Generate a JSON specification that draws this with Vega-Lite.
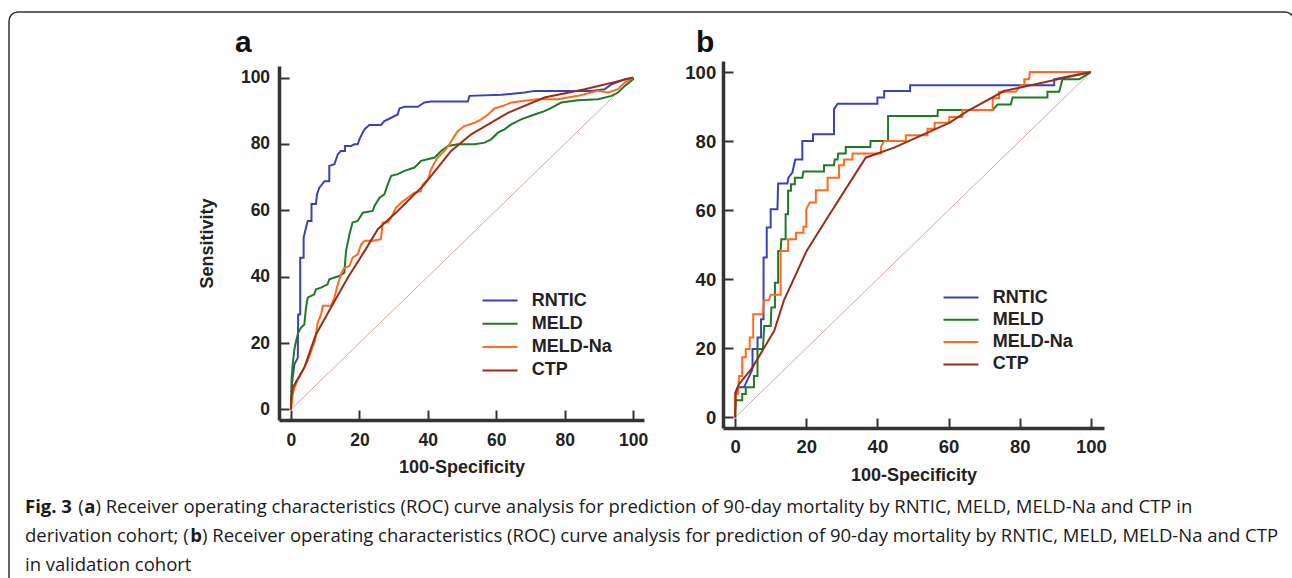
{
  "$schema": "https://vega.github.io/schema/vega-lite/v6.json",
  "padding": {"left": 8, "top": 8, "right": 0, "bottom": 0},
  "background": "white",
  "config": {
    "view": {"stroke": null},
    "font": "Liberation Sans",
    "axis": {
      "grid": false, "tickSize": -10, "tickWidth": 2, "tickColor": "#333333",
      "domainWidth": 3.5, "domainColor": "#333333",
      "labelFont": "Liberation Sans", "labelFontWeight": "bold", "labelColor": "#222222",
      "labelFlush": false, "labelOverlap": false,
      "titleFont": "Liberation Sans", "titleFontWeight": "bold", "titleColor": "#222222", "titleFontSize": 18
    },
    "legend": {
      "symbolType": "M-3.5,0H3.5", "symbolSize": 100, "symbolStrokeWidth": 2, "symbolOffset": 8,
      "labelFont": "Liberation Sans", "labelFontWeight": "bold", "labelFontSize": 18, "labelColor": "#222222",
      "labelOffset": 22.7, "padding": 0
    }
  },
  "datasets": {
    "rocA": [
      {"s":"RNTIC","x":0,"y":0},{"s":"RNTIC","x":0.3,"y":8},{"s":"RNTIC","x":1,"y":13.6},{"s":"RNTIC","x":2,"y":15.6},{"s":"RNTIC","x":2.1,"y":28.6},{"s":"RNTIC","x":2.7,"y":28.6},{"s":"RNTIC","x":2.7,"y":45.7},{"s":"RNTIC","x":3.7,"y":45.7},{"s":"RNTIC","x":3.7,"y":51.8},{"s":"RNTIC","x":4.4,"y":54.8},{"s":"RNTIC","x":4.9,"y":56.8},{"s":"RNTIC","x":6,"y":56.8},{"s":"RNTIC","x":6,"y":61.9},{"s":"RNTIC","x":7.3,"y":61.9},{"s":"RNTIC","x":7.6,"y":64.8},{"s":"RNTIC","x":8.3,"y":66.8},{"s":"RNTIC","x":9.8,"y":68.8},{"s":"RNTIC","x":11.2,"y":68.8},{"s":"RNTIC","x":11.2,"y":73.4},{"s":"RNTIC","x":12.7,"y":73.9},{"s":"RNTIC","x":13.7,"y":76.9},{"s":"RNTIC","x":14.6,"y":77.9},{"s":"RNTIC","x":15.8,"y":77.9},{"s":"RNTIC","x":15.8,"y":79.4},{"s":"RNTIC","x":17.6,"y":79.4},{"s":"RNTIC","x":18.5,"y":79.9},{"s":"RNTIC","x":19.5,"y":79.9},{"s":"RNTIC","x":20,"y":81.4},{"s":"RNTIC","x":20.7,"y":82.9},{"s":"RNTIC","x":21.5,"y":84.4},{"s":"RNTIC","x":22.9,"y":85.7},{"s":"RNTIC","x":26.3,"y":85.7},{"s":"RNTIC","x":27.3,"y":86.9},{"s":"RNTIC","x":29.3,"y":87.9},{"s":"RNTIC","x":31.2,"y":88.9},{"s":"RNTIC","x":31.7,"y":90.7},{"s":"RNTIC","x":33.2,"y":91.2},{"s":"RNTIC","x":37.1,"y":91.2},{"s":"RNTIC","x":39,"y":92.5},{"s":"RNTIC","x":41,"y":92.8},{"s":"RNTIC","x":51.7,"y":92.8},{"s":"RNTIC","x":52.2,"y":94.5},{"s":"RNTIC","x":61.5,"y":94.8},{"s":"RNTIC","x":68.3,"y":95.5},{"s":"RNTIC","x":71.2,"y":96},{"s":"RNTIC","x":87.8,"y":96},{"s":"RNTIC","x":91.7,"y":96.5},{"s":"RNTIC","x":93.7,"y":98},{"s":"RNTIC","x":97.6,"y":99.5},{"s":"RNTIC","x":100,"y":100},
      {"s":"MELD","x":0,"y":0},{"s":"MELD","x":0.2,"y":9.5},{"s":"MELD","x":0.5,"y":13.6},{"s":"MELD","x":1,"y":18.1},{"s":"MELD","x":1.5,"y":20.6},{"s":"MELD","x":2.1,"y":23.1},{"s":"MELD","x":2.9,"y":24.6},{"s":"MELD","x":3.9,"y":25.6},{"s":"MELD","x":4.4,"y":30.7},{"s":"MELD","x":4.9,"y":33.7},{"s":"MELD","x":5.9,"y":34.2},{"s":"MELD","x":6.8,"y":34.7},{"s":"MELD","x":7.3,"y":36.2},{"s":"MELD","x":8.8,"y":36.7},{"s":"MELD","x":10.7,"y":37.7},{"s":"MELD","x":11.2,"y":39.2},{"s":"MELD","x":14.1,"y":40.2},{"s":"MELD","x":15.6,"y":41.2},{"s":"MELD","x":16.1,"y":47.7},{"s":"MELD","x":17.1,"y":52.8},{"s":"MELD","x":18,"y":56.3},{"s":"MELD","x":19.5,"y":56.8},{"s":"MELD","x":21,"y":59.3},{"s":"MELD","x":23.9,"y":59.8},{"s":"MELD","x":24.4,"y":61.3},{"s":"MELD","x":25.9,"y":63.8},{"s":"MELD","x":27.3,"y":64.8},{"s":"MELD","x":28.3,"y":67.8},{"s":"MELD","x":29.3,"y":70.4},{"s":"MELD","x":31.2,"y":70.9},{"s":"MELD","x":33.2,"y":71.9},{"s":"MELD","x":36.1,"y":72.9},{"s":"MELD","x":37.6,"y":74.4},{"s":"MELD","x":38,"y":74.9},{"s":"MELD","x":42,"y":75.9},{"s":"MELD","x":43.9,"y":77.9},{"s":"MELD","x":45.9,"y":79.4},{"s":"MELD","x":48.8,"y":79.9},{"s":"MELD","x":53.7,"y":79.9},{"s":"MELD","x":56.6,"y":80.4},{"s":"MELD","x":58.5,"y":81.4},{"s":"MELD","x":60.5,"y":83.4},{"s":"MELD","x":62.4,"y":84.4},{"s":"MELD","x":64.4,"y":85.9},{"s":"MELD","x":67.3,"y":87.4},{"s":"MELD","x":71.2,"y":88.9},{"s":"MELD","x":74.1,"y":89.9},{"s":"MELD","x":76.1,"y":90.9},{"s":"MELD","x":79,"y":92.5},{"s":"MELD","x":83.9,"y":93.2},{"s":"MELD","x":89.8,"y":93.5},{"s":"MELD","x":93.7,"y":94.5},{"s":"MELD","x":95.6,"y":95.5},{"s":"MELD","x":97.6,"y":97.5},{"s":"MELD","x":100,"y":99.5},{"s":"MELD","x":100,"y":100},
      {"s":"MELD-Na","x":0,"y":0},{"s":"MELD-Na","x":0.5,"y":4.5},{"s":"MELD-Na","x":1,"y":6.5},{"s":"MELD-Na","x":2,"y":9},{"s":"MELD-Na","x":3.4,"y":11.6},{"s":"MELD-Na","x":4.9,"y":14.6},{"s":"MELD-Na","x":5.9,"y":17.6},{"s":"MELD-Na","x":7,"y":20.6},{"s":"MELD-Na","x":7.8,"y":26.1},{"s":"MELD-Na","x":8.8,"y":28.6},{"s":"MELD-Na","x":9.3,"y":31.2},{"s":"MELD-Na","x":11.7,"y":31.2},{"s":"MELD-Na","x":12.7,"y":33.7},{"s":"MELD-Na","x":13.7,"y":37.7},{"s":"MELD-Na","x":14.6,"y":40.7},{"s":"MELD-Na","x":15.6,"y":42.7},{"s":"MELD-Na","x":17.1,"y":43.2},{"s":"MELD-Na","x":18,"y":45.7},{"s":"MELD-Na","x":19.5,"y":46.7},{"s":"MELD-Na","x":20.5,"y":49.7},{"s":"MELD-Na","x":21.5,"y":50.8},{"s":"MELD-Na","x":23.9,"y":50.8},{"s":"MELD-Na","x":26.3,"y":51.3},{"s":"MELD-Na","x":26.8,"y":56.3},{"s":"MELD-Na","x":28.3,"y":56.3},{"s":"MELD-Na","x":29.3,"y":57.8},{"s":"MELD-Na","x":30.7,"y":60.8},{"s":"MELD-Na","x":32.2,"y":62.3},{"s":"MELD-Na","x":34.1,"y":63.8},{"s":"MELD-Na","x":36.1,"y":65.3},{"s":"MELD-Na","x":38,"y":65.8},{"s":"MELD-Na","x":38.5,"y":67.8},{"s":"MELD-Na","x":40,"y":69.3},{"s":"MELD-Na","x":41,"y":72.4},{"s":"MELD-Na","x":42,"y":74.4},{"s":"MELD-Na","x":42.9,"y":75.9},{"s":"MELD-Na","x":44.9,"y":77.9},{"s":"MELD-Na","x":46.3,"y":79.9},{"s":"MELD-Na","x":47.8,"y":82.4},{"s":"MELD-Na","x":48.8,"y":83.9},{"s":"MELD-Na","x":50.7,"y":85.4},{"s":"MELD-Na","x":53.7,"y":86.4},{"s":"MELD-Na","x":55.6,"y":87.4},{"s":"MELD-Na","x":57.6,"y":88.9},{"s":"MELD-Na","x":59.5,"y":90.7},{"s":"MELD-Na","x":62,"y":91.5},{"s":"MELD-Na","x":64.4,"y":92.5},{"s":"MELD-Na","x":68.3,"y":93},{"s":"MELD-Na","x":72.2,"y":93.5},{"s":"MELD-Na","x":78,"y":93.5},{"s":"MELD-Na","x":83.9,"y":94.5},{"s":"MELD-Na","x":89.8,"y":96},{"s":"MELD-Na","x":92.7,"y":95.5},{"s":"MELD-Na","x":95.6,"y":96.5},{"s":"MELD-Na","x":97.6,"y":98.5},{"s":"MELD-Na","x":100,"y":100},
      {"s":"CTP","x":0,"y":0},{"s":"CTP","x":0,"y":2},{"s":"CTP","x":0.5,"y":6.5},{"s":"CTP","x":3.9,"y":12.6},{"s":"CTP","x":7.3,"y":22.6},{"s":"CTP","x":11.7,"y":30.7},{"s":"CTP","x":16.6,"y":39.7},{"s":"CTP","x":21.5,"y":47.7},{"s":"CTP","x":25.4,"y":54.3},{"s":"CTP","x":31.2,"y":59.8},{"s":"CTP","x":39,"y":67.8},{"s":"CTP","x":46.8,"y":77.9},{"s":"CTP","x":52.7,"y":82.9},{"s":"CTP","x":63.4,"y":89.4},{"s":"CTP","x":74.1,"y":94},{"s":"CTP","x":85.9,"y":96.5},{"s":"CTP","x":100,"y":100}
    ],
    "rocB": [
      {"s":"RNTIC","x":0,"y":0},{"s":"RNTIC","x":0,"y":7},{"s":"RNTIC","x":0.7,"y":8.7},{"s":"RNTIC","x":2.5,"y":8.7},{"s":"RNTIC","x":4.9,"y":14},{"s":"RNTIC","x":4.9,"y":19.8},{"s":"RNTIC","x":6.3,"y":19.8},{"s":"RNTIC","x":6.3,"y":23.1},{"s":"RNTIC","x":7.3,"y":23.1},{"s":"RNTIC","x":7.3,"y":28.4},{"s":"RNTIC","x":8,"y":28.4},{"s":"RNTIC","x":8,"y":46.3},{"s":"RNTIC","x":8.9,"y":46.3},{"s":"RNTIC","x":8.9,"y":55},{"s":"RNTIC","x":10,"y":55},{"s":"RNTIC","x":10,"y":60.3},{"s":"RNTIC","x":11.9,"y":60.3},{"s":"RNTIC","x":12.1,"y":67.7},{"s":"RNTIC","x":14.7,"y":67.7},{"s":"RNTIC","x":15,"y":69.4},{"s":"RNTIC","x":16.1,"y":70.9},{"s":"RNTIC","x":16.9,"y":74.7},{"s":"RNTIC","x":18.9,"y":74.7},{"s":"RNTIC","x":18.9,"y":80},{"s":"RNTIC","x":21.9,"y":80},{"s":"RNTIC","x":21.9,"y":82},{"s":"RNTIC","x":27.8,"y":82},{"s":"RNTIC","x":27.8,"y":89.2},{"s":"RNTIC","x":28.8,"y":90.8},{"s":"RNTIC","x":40,"y":90.8},{"s":"RNTIC","x":40,"y":92.6},{"s":"RNTIC","x":41.9,"y":92.6},{"s":"RNTIC","x":41.9,"y":94.5},{"s":"RNTIC","x":49.2,"y":94.5},{"s":"RNTIC","x":49.2,"y":96.2},{"s":"RNTIC","x":89.7,"y":96.2},{"s":"RNTIC","x":89.7,"y":97.9},{"s":"RNTIC","x":100,"y":100},
      {"s":"MELD","x":0,"y":0},{"s":"MELD","x":0.2,"y":5},{"s":"MELD","x":2,"y":5},{"s":"MELD","x":2,"y":6.8},{"s":"MELD","x":3,"y":6.8},{"s":"MELD","x":3,"y":8.7},{"s":"MELD","x":5.3,"y":8.7},{"s":"MELD","x":5.3,"y":12},{"s":"MELD","x":6.3,"y":12},{"s":"MELD","x":6.3,"y":19.8},{"s":"MELD","x":7.8,"y":19.8},{"s":"MELD","x":8.2,"y":26.5},{"s":"MELD","x":10,"y":26.5},{"s":"MELD","x":10.2,"y":31.8},{"s":"MELD","x":11.2,"y":31.8},{"s":"MELD","x":11.2,"y":39},{"s":"MELD","x":12.1,"y":39},{"s":"MELD","x":12.1,"y":48.2},{"s":"MELD","x":12.8,"y":48.2},{"s":"MELD","x":13,"y":51.6},{"s":"MELD","x":14.2,"y":51.6},{"s":"MELD","x":14.2,"y":58.8},{"s":"MELD","x":14.9,"y":58.8},{"s":"MELD","x":14.9,"y":65.6},{"s":"MELD","x":15.7,"y":65.6},{"s":"MELD","x":15.7,"y":67.5},{"s":"MELD","x":16.8,"y":67.5},{"s":"MELD","x":16.8,"y":69.4},{"s":"MELD","x":18.9,"y":69.4},{"s":"MELD","x":19.2,"y":71.2},{"s":"MELD","x":25,"y":71.2},{"s":"MELD","x":25,"y":73},{"s":"MELD","x":27.8,"y":73},{"s":"MELD","x":28,"y":74.7},{"s":"MELD","x":28.8,"y":74.7},{"s":"MELD","x":29,"y":76.4},{"s":"MELD","x":31.1,"y":76.4},{"s":"MELD","x":31.1,"y":78.3},{"s":"MELD","x":38,"y":78.3},{"s":"MELD","x":38.1,"y":80},{"s":"MELD","x":43,"y":80},{"s":"MELD","x":43,"y":87.3},{"s":"MELD","x":56.9,"y":87.3},{"s":"MELD","x":57,"y":89},{"s":"MELD","x":72.4,"y":89},{"s":"MELD","x":73.8,"y":90.6},{"s":"MELD","x":77.5,"y":90.6},{"s":"MELD","x":78,"y":92.6},{"s":"MELD","x":87.8,"y":92.6},{"s":"MELD","x":87.8,"y":94.3},{"s":"MELD","x":91.1,"y":94.3},{"s":"MELD","x":91.6,"y":96.2},{"s":"MELD","x":92,"y":97.9},{"s":"MELD","x":96.7,"y":97.9},{"s":"MELD","x":100,"y":100},
      {"s":"MELD-Na","x":0,"y":0},{"s":"MELD-Na","x":0,"y":6.8},{"s":"MELD-Na","x":0.8,"y":6.8},{"s":"MELD-Na","x":1.1,"y":12},{"s":"MELD-Na","x":2,"y":12},{"s":"MELD-Na","x":2,"y":17.4},{"s":"MELD-Na","x":3,"y":17.4},{"s":"MELD-Na","x":3,"y":19.8},{"s":"MELD-Na","x":4.1,"y":19.8},{"s":"MELD-Na","x":4.1,"y":23.1},{"s":"MELD-Na","x":5.1,"y":23.1},{"s":"MELD-Na","x":5.1,"y":29.9},{"s":"MELD-Na","x":7.7,"y":29.9},{"s":"MELD-Na","x":8.2,"y":33.9},{"s":"MELD-Na","x":9.5,"y":33.9},{"s":"MELD-Na","x":10,"y":35.5},{"s":"MELD-Na","x":12.8,"y":35.5},{"s":"MELD-Na","x":12.8,"y":48.2},{"s":"MELD-Na","x":14.9,"y":48.2},{"s":"MELD-Na","x":14.9,"y":51.6},{"s":"MELD-Na","x":17.1,"y":51.6},{"s":"MELD-Na","x":17.1,"y":53.5},{"s":"MELD-Na","x":19.2,"y":53.5},{"s":"MELD-Na","x":19.2,"y":55.2},{"s":"MELD-Na","x":20,"y":55.2},{"s":"MELD-Na","x":20,"y":60.3},{"s":"MELD-Na","x":21,"y":62.2},{"s":"MELD-Na","x":22.7,"y":62.2},{"s":"MELD-Na","x":22.7,"y":65.8},{"s":"MELD-Na","x":26,"y":65.8},{"s":"MELD-Na","x":26,"y":69.4},{"s":"MELD-Na","x":29.2,"y":69.4},{"s":"MELD-Na","x":29.2,"y":73},{"s":"MELD-Na","x":30.6,"y":73},{"s":"MELD-Na","x":30.6,"y":74.7},{"s":"MELD-Na","x":33,"y":74.7},{"s":"MELD-Na","x":33,"y":76.4},{"s":"MELD-Na","x":41,"y":76.4},{"s":"MELD-Na","x":41,"y":78.3},{"s":"MELD-Na","x":41.9,"y":80},{"s":"MELD-Na","x":48,"y":80},{"s":"MELD-Na","x":48,"y":81.7},{"s":"MELD-Na","x":54.1,"y":81.7},{"s":"MELD-Na","x":54.1,"y":83.6},{"s":"MELD-Na","x":56.1,"y":83.6},{"s":"MELD-Na","x":56.1,"y":85.3},{"s":"MELD-Na","x":60.2,"y":85.3},{"s":"MELD-Na","x":60.2,"y":87},{"s":"MELD-Na","x":63.9,"y":87},{"s":"MELD-Na","x":63.9,"y":89},{"s":"MELD-Na","x":72.4,"y":89},{"s":"MELD-Na","x":72.4,"y":92.4},{"s":"MELD-Na","x":74.2,"y":92.4},{"s":"MELD-Na","x":74.2,"y":94.3},{"s":"MELD-Na","x":78.9,"y":94.3},{"s":"MELD-Na","x":80.3,"y":96.2},{"s":"MELD-Na","x":81.3,"y":96.2},{"s":"MELD-Na","x":81.3,"y":97.9},{"s":"MELD-Na","x":82.6,"y":97.9},{"s":"MELD-Na","x":82.9,"y":100},{"s":"MELD-Na","x":100,"y":100},
      {"s":"CTP","x":0,"y":0},{"s":"CTP","x":0.2,"y":7.2},{"s":"CTP","x":1.1,"y":9.6},{"s":"CTP","x":4.9,"y":14.5},{"s":"CTP","x":11,"y":25.1},{"s":"CTP","x":13.7,"y":33.8},{"s":"CTP","x":20.1,"y":48.2},{"s":"CTP","x":26,"y":57.9},{"s":"CTP","x":36.7,"y":75.2},{"s":"CTP","x":44.7,"y":78.1},{"s":"CTP","x":60.2,"y":85.3},{"s":"CTP","x":65.3,"y":88.7},{"s":"CTP","x":75.6,"y":94.5},{"s":"CTP","x":100,"y":100}
    ],
    "cap": [
      {"k":"f","line":1,"t":"Fig. 3"},
      {"k":"r1","line":1,"t":"("},
      {"k":"b1","line":1,"t":"a"},
      {"k":"r2","line":1,"t":") Receiver operating characteristics (ROC) curve analysis for prediction of 90-day mortality by RNTIC, MELD, MELD-Na and CTP in"},
      {"k":"r3","line":2,"t":"derivation cohort; ("},
      {"k":"b2","line":2,"t":"b"},
      {"k":"r4","line":2,"t":") Receiver operating characteristics (ROC) curve analysis for prediction of 90-day mortality by RNTIC, MELD, MELD-Na and CTP"},
      {"k":"r5","line":3,"t":"in validation cohort"}
    ]
  },
  "bounds": "flush",
  "spacing": 0,
  "vconcat": [
    {
      "spacing": 7,
      "vconcat": [
        {
          "width": 1, "height": 4.5,
          "data": {"values": [{}]},
          "mark": {"type": "text"},
          "encoding": {"text": {"value": ""}}
        },
        {
          "spacing": 12.9,
          "vconcat": [
            {
              "spacing": 36,
              "resolve": {"scale": {"color": "independent"}, "legend": {"color": "independent"}},
              "hconcat": [
                {
                  "width": 153, "height": 1,
                  "data": {"values": [{}]},
                  "mark": {"type": "text"},
                  "encoding": {"text": {"value": ""}}
                },
                {
                  "width": 365, "height": 359,
                  "title": {"text": "a", "anchor": "start", "frame": "group", "dx": -44, "offset": -20.5, "baseline": "alphabetic", "fontSize": 30, "fontWeight": "bold", "font": "Liberation Sans", "color": "#111111"},
                  "layer": [
                    {
                      "data": {"values": [{}]},
                      "mark": {"type": "rule", "color": "#d4a89e", "strokeWidth": 1},
                      "encoding": {
                        "x": {"datum": 0, "type": "quantitative"},
                        "y": {"datum": 0, "type": "quantitative"},
                        "x2": {"datum": 100},
                        "y2": {"datum": 100}
                      }
                    },
                    {
                      "data": {"name": "rocA"},
                      "mark": {"type": "line", "strokeWidth": 2},
                      "encoding": {
                        "x": {"field": "x", "type": "quantitative",
                          "scale": {"domain": [-3.5, 103.2], "nice": false, "zero": false},
                          "axis": {"title": "100-Specificity", "values": [0, 20, 40, 60, 80, 100], "labelFontSize": 17.5, "labelPadding": 21.4, "titlePadding": 10}},
                        "y": {"field": "y", "type": "quantitative",
                          "scale": {"domain": [-3.2, 103.5], "range": [359, 5], "nice": false, "zero": false},
                          "axis": {"title": "Sensitivity", "values": [0, 20, 40, 60, 80, 100], "labelFontSize": 17.5, "labelPadding": 19.4, "titlePadding": 24}},
                        "color": {"field": "s", "type": "nominal",
                          "scale": {"domain": ["RNTIC", "MELD", "MELD-Na", "CTP"], "range": ["#3b43b4", "#1f7a25", "#ff6a20", "#9a2d17"]},
                          "legend": {"title": null, "orient": "none", "legendX": 204, "legendY": 230.5, "rowPadding": 5.3}}
                      }
                    }
                  ]
                },
                {
                  "width": 381, "height": 367,
                  "title": {"text": "b", "anchor": "start", "frame": "group", "dx": -27, "offset": -20.5, "baseline": "alphabetic", "fontSize": 30, "fontWeight": "bold", "font": "Liberation Sans", "color": "#111111"},
                  "layer": [
                    {
                      "data": {"values": [{}]},
                      "mark": {"type": "rule", "color": "#d4a89e", "strokeWidth": 1},
                      "encoding": {
                        "x": {"datum": 0, "type": "quantitative"},
                        "y": {"datum": 0, "type": "quantitative"},
                        "x2": {"datum": 100},
                        "y2": {"datum": 100}
                      }
                    },
                    {
                      "data": {"name": "rocB"},
                      "mark": {"type": "line", "strokeWidth": 2},
                      "encoding": {
                        "x": {"field": "x", "type": "quantitative",
                          "scale": {"domain": [-3.4, 103.7], "nice": false, "zero": false},
                          "axis": {"title": "100-Specificity", "values": [0, 20, 40, 60, 80, 100], "labelFontSize": 18.5, "labelPadding": 19.7, "titlePadding": 10}},
                        "y": {"field": "y", "type": "quantitative",
                          "scale": {"domain": [-3.07, 103.2], "nice": false, "zero": false},
                          "axis": {"title": null, "values": [0, 20, 40, 60, 80, 100], "labelFontSize": 18.5, "labelPadding": 17.3}},
                        "color": {"field": "s", "type": "nominal",
                          "scale": {"domain": ["RNTIC", "MELD", "MELD-Na", "CTP"], "range": ["#3b43b4", "#1f7a25", "#ff6a20", "#9a2d17"]},
                          "legend": {"title": null, "orient": "none", "legendX": 221, "legendY": 227.5, "rowPadding": 4.3}}
                      }
                    }
                  ]
                }
              ]
            },
            {
              "width": 1260, "height": 72,
              "data": {"name": "cap"},
              "encoding": {
                "y": {"field": "line", "type": "quantitative", "scale": {"domain": [0.5, 3], "reverse": true, "nice": false, "zero": false}, "axis": null},
                "x": {"value": 0},
                "text": {"field": "t"}
              },
              "layer": [
                {"transform": [{"filter": "datum.k == 'f'"}], "mark": {"type": "text", "align": "left", "baseline": "alphabetic", "font": "Open Sans", "fontSize": 18.5, "fontWeight": "bold", "color": "#1a1a1a", "dx": 16}},
                {"transform": [{"filter": "datum.k == 'r1'"}], "mark": {"type": "text", "align": "left", "baseline": "alphabetic", "font": "Open Sans", "fontSize": 18.5, "color": "#1a1a1a", "dx": 69.3}},
                {"transform": [{"filter": "datum.k == 'b1'"}], "mark": {"type": "text", "align": "left", "baseline": "alphabetic", "font": "Open Sans", "fontSize": 18.5, "fontWeight": "bold", "color": "#1a1a1a", "dx": 75.3}},
                {"transform": [{"filter": "datum.k == 'r2'"}], "mark": {"type": "text", "align": "left", "baseline": "alphabetic", "font": "Open Sans", "fontSize": 18.5, "color": "#1a1a1a", "dx": 86.4}},
                {"transform": [{"filter": "datum.k == 'r3' || datum.k == 'r5'"}], "mark": {"type": "text", "align": "left", "baseline": "alphabetic", "font": "Open Sans", "fontSize": 18.5, "color": "#1a1a1a", "dx": 16}},
                {"transform": [{"filter": "datum.k == 'b2'"}], "mark": {"type": "text", "align": "left", "baseline": "alphabetic", "font": "Open Sans", "fontSize": 18.5, "fontWeight": "bold", "color": "#1a1a1a", "dx": 181.2}},
                {"transform": [{"filter": "datum.k == 'r4'"}], "mark": {"type": "text", "align": "left", "baseline": "alphabetic", "font": "Open Sans", "fontSize": 18.5, "color": "#1a1a1a", "dx": 193}}
              ]
            }
          ]
        }
      ]
    },
    {
      "width": 1285, "height": 600,
      "view": {"stroke": "#333333", "strokeWidth": 1.5, "cornerRadius": 9},
      "data": {"values": [{}]},
      "mark": {"type": "text"},
      "encoding": {"text": {"value": ""}}
    }
  ]
}
